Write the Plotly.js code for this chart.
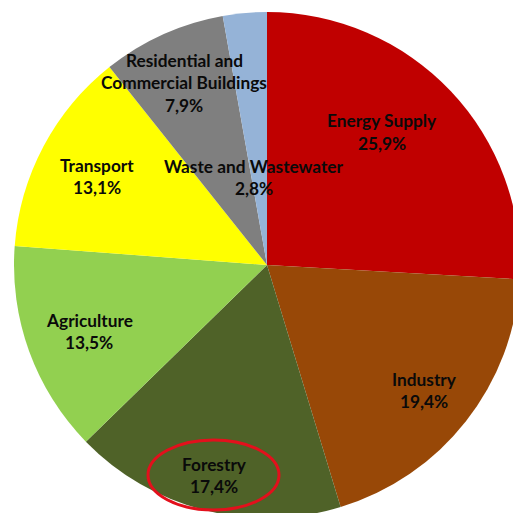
<!DOCTYPE html>
<html>
<head>
<meta charset="utf-8">
<script src="https://cdn.plot.ly/plotly-3.0.1.min.js"></script>
<style>
html,body{margin:0;padding:0;overflow:hidden;background:#fff;width:513px;height:513px;}
#chart{width:540px;height:540px;}
</style>
</head>
<body>
<div id="chart"></div>
<script>
// Data
const categories = ["Energy Supply", "Industry", "Forestry", "Agriculture", "Transport", "Residential and Commercial Buildings", "Waste and Wastewater"];
const labelLines = [["Energy Supply"], ["Industry"], ["Forestry"], ["Agriculture"], ["Transport"], ["Residential and", "Commercial Buildings"], ["Waste and Wastewater"]];
const shares = [25.9, 19.4, 17.4, 13.5, 13.1, 7.9, 2.8];
const pctLabels = ["25,9%", "19,4%", "17,4%", "13,5%", "13,1%", "7,9%", "2,8%"];

// Styles / layout
const colors = ["#C00000", "#984807", "#4F6228", "#92D050", "#FFFF00", "#7F7F7F", "#95B3D7"];
const W = 540, H = 540;
const M = {l: 14, t: 12, r: W - 520, b: H - 518};
const PW = W - M.l - M.r, PH = H - M.t - M.b;
// label anchor (pixel centre of first line) for each slice
const labelPos = [[382, 121], [424, 379], [214, 464], [89, 320], [97, 165], [184, 60], [254, 166]];
const lineGap = 22.5;

function px(x) { return (x - M.l) / PW; }
function py(y) { return 1 - (y - M.t) / PH; }

const annotations = [];
categories.forEach((c, i) => {
  const lines = labelLines[i].concat([pctLabels[i]]);
  lines.forEach((t, j) => {
    annotations.push({
      text: t, xref: 'paper', yref: 'paper',
      x: px(labelPos[i][0]), y: py(labelPos[i][1] + j * lineGap),
      xanchor: 'center', yanchor: 'middle', showarrow: false,
      font: {family: 'Lato, "Open Sans", sans-serif', size: 17.3, color: '#0a0a0a', weight: 'bold'}
    });
  });
});

const trace = {
  type: 'pie',
  labels: categories,
  values: shares,
  sort: false,
  direction: 'clockwise',
  rotation: 0,
  marker: {colors: colors, line: {width: 0}},
  textinfo: 'none',
  hoverinfo: 'label+percent',
  showlegend: false
};

const layout = {
  width: W, height: H,
  margin: M,
  paper_bgcolor: '#ffffff',
  showlegend: false,
  annotations: annotations,
  shapes: [{
    type: 'circle', xref: 'paper', yref: 'paper',
    x0: px(148), x1: px(279), y0: py(510), y1: py(440),
    line: {color: '#E3101C', width: 3}
  }]
};

Plotly.newPlot('chart', [trace], layout, {staticPlot: true, displayModeBar: false});
</script>
</body>
</html>
